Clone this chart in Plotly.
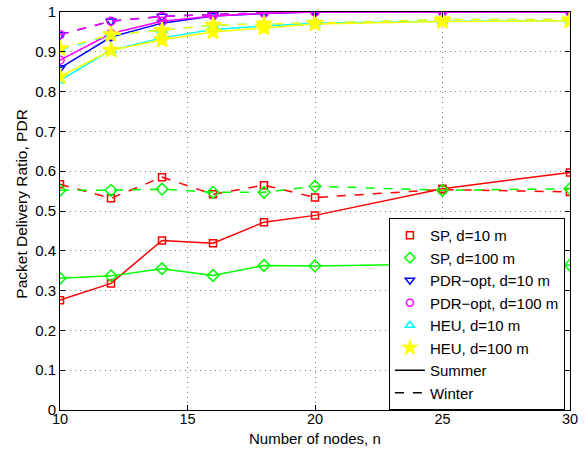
import plotly.graph_objects as go

nodes = [10, 12, 14, 16, 18, 20, 25, 30]

sp10_summer = [0.276, 0.318, 0.426, 0.419, 0.472, 0.489, 0.556, 0.597]
sp10_winter = [0.567, 0.532, 0.585, 0.542, 0.565, 0.534, 0.554, 0.548]
sp100_summer = [0.331, 0.337, 0.355, 0.338, 0.363, 0.362, 0.367, 0.364]
sp100_winter = [0.552, 0.552, 0.555, 0.547, 0.547, 0.562, 0.552, 0.556]
pdr10_summer = [0.859, 0.937, 0.972, 0.990, 0.996, 1.0, 1.0, 1.0]
pdr10_winter = [0.943, 0.977, 0.989, 0.994, 0.998, 1.0, 1.0, 1.0]
pdr100_summer = [0.879, 0.946, 0.977, 0.990, 0.997, 1.0, 1.0, 1.0]
pdr100_winter = [0.943, 0.977, 0.989, 0.994, 0.998, 1.0, 1.0, 1.0]
heu10_summer = [0.828, 0.904, 0.935, 0.956, 0.965, 0.972, 0.977, 0.978]
heu10_winter = [0.905, 0.943, 0.954, 0.967, 0.970, 0.972, 0.981, 0.981]
heu100_summer = [0.838, 0.904, 0.930, 0.950, 0.960, 0.970, 0.976, 0.978]
heu100_winter = [0.908, 0.943, 0.954, 0.967, 0.970, 0.972, 0.981, 0.981]

x_ticks = [10, 15, 20, 25, 30]
y_ticks = [0, 0.1, 0.2, 0.3, 0.4, 0.5, 0.6, 0.7, 0.8, 0.9, 1]
y_tick_labels = ["0", "0.1", "0.2", "0.3", "0.4", "0.5", "0.6", "0.7", "0.8", "0.9", "1"]

series = [
    ("SP, d=10 m", "#ff0000", "square-open", 7, 7, sp10_summer, sp10_winter),
    ("SP, d=100 m", "#00ff00", "diamond-open", 9, 8, sp100_summer, sp100_winter),
    ("PDR\u2212opt, d=10 m", "#0000ff", "triangle-down-open", 9, 8, pdr10_summer, pdr10_winter),
    ("PDR\u2212opt, d=100 m", "#ff00ff", "circle-open", 8, 7, pdr100_summer, pdr100_winter),
    ("HEU, d=10 m", "#00ffff", "triangle-up-open", 9, 8, heu10_summer, heu10_winter),
    ("HEU, d=100 m", "#ffff00", "star", 12, 10, heu100_summer, heu100_winter),
]

fig = go.Figure()
for name, color, sym, size, lsize, summer, winter in series:
    for vals, dash in ((summer, "solid"), (winter, "dash")):
        fig.add_trace(go.Scatter(
            x=nodes, y=vals, mode="lines+markers", showlegend=False,
            line=dict(color=color, width=1.5, dash=dash),
            marker=dict(symbol=sym, size=size, color=color,
                        line=dict(color=color, width=1.5)),
        ))

for name, color, sym, size, lsize, summer, winter in series:
    fig.add_trace(go.Scatter(
        x=[None], y=[None], mode="markers", name=name,
        marker=dict(symbol=sym, size=lsize, color=color,
                    line=dict(color=color, width=1.5)),
    ))
fig.add_trace(go.Scatter(x=[None], y=[None], mode="lines", name="Summer",
                         line=dict(color="black", width=1.5)))
fig.add_trace(go.Scatter(x=[None], y=[None], mode="lines", name="Winter",
                         line=dict(color="black", width=1.5, dash="dash")))

axis_common = dict(
    showline=True, linecolor="black", linewidth=1, mirror="allticks",
    ticks="inside", ticklen=5, tickcolor="black",
    showgrid=True, gridcolor="#808080", griddash="1px,4px", gridwidth=1,
    zeroline=False, automargin=False,
)

fig.update_layout(
    width=585, height=449,
    margin=dict(l=60, r=15, t=12, b=39, autoexpand=False),
    paper_bgcolor="white", plot_bgcolor="white",
    font=dict(family="Liberation Sans, Arial, sans-serif", size=15, color="black"),
    xaxis=dict(range=[10, 30], tickvals=x_ticks, ticklabelstandoff=-4,
               tickfont=dict(size=14.5, color="black"), **axis_common),
    yaxis=dict(range=[0, 1], tickvals=y_ticks, ticktext=y_tick_labels,
               tickfont=dict(size=15, color="black"), **axis_common),
    legend=dict(x=0.99, y=0.0, xanchor="right", yanchor="bottom",
                bgcolor="white", bordercolor="black", borderwidth=1,
                font=dict(size=15), tracegroupgap=0, itemwidth=30),
    annotations=[
        dict(text="Number of nodes, n", xref="paper", yref="paper",
             x=0.5, y=-0.098, xanchor="center", yanchor="bottom",
             showarrow=False, font=dict(size=15)),
        dict(text="Packet Delivery Ratio, PDR", xref="paper", yref="paper",
             x=-0.076, y=0.519, xanchor="center", yanchor="middle", textangle=-90,
             showarrow=False, font=dict(size=15.5)),
    ],
)

fig.write_html(
    "out.html",
    config={"displayModeBar": False},
    post_script="document.body.style.margin='0';document.body.style.overflow='hidden';",
)
